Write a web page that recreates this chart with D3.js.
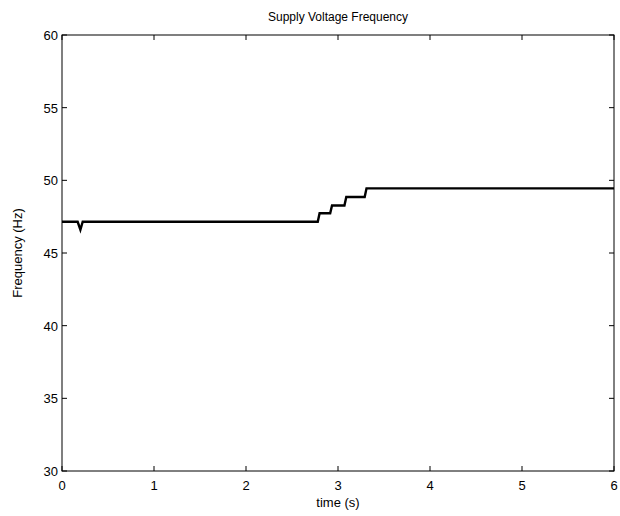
<!DOCTYPE html>
<html><head><meta charset="utf-8">
<script src="https://cdn.jsdelivr.net/npm/d3@7"></script>
<style>body{margin:0;background:#fff}svg{display:block;font-family:"Liberation Sans",Arial,sans-serif}</style>
</head><body>
<script>
const times = [0, 0.17, 0.20, 0.225, 2.78, 2.80, 2.915, 2.935, 3.07, 3.09, 3.29, 3.31, 6];
const freq  = [47.15, 47.15, 46.6, 47.15, 47.15, 47.74, 47.74, 48.27, 48.27, 48.85, 48.85, 49.45, 49.45];
const xTicks = [0,1,2,3,4,5,6];
const yTicks = [30,35,40,45,50,55,60];

const W=620,H=516, L=62, R=614, T=35, B=471;
const svg=d3.select("body").append("svg").attr("width",W).attr("height",H);
const x=d3.scaleLinear().domain([0,6]).range([L,R]);
const y=d3.scaleLinear().domain([30,60]).range([B,T]);

const tl=5;
const ax=svg.append("g").attr("stroke","#000").attr("stroke-width",1).attr("fill","none");
ax.append("rect").attr("x",L).attr("y",T).attr("width",R-L).attr("height",B-T);
xTicks.forEach(t=>{
  ax.append("line").attr("x1",x(t)).attr("x2",x(t)).attr("y1",B).attr("y2",B-tl);
  ax.append("line").attr("x1",x(t)).attr("x2",x(t)).attr("y1",T).attr("y2",T+tl);
});
yTicks.forEach(t=>{
  ax.append("line").attr("y1",y(t)).attr("y2",y(t)).attr("x1",L).attr("x2",L+tl);
  ax.append("line").attr("y1",y(t)).attr("y2",y(t)).attr("x1",R).attr("x2",R-tl);
});
svg.append("g").selectAll("text").data(xTicks).join("text")
  .attr("x",d=>x(d)).attr("y",B+19).attr("text-anchor","middle").attr("font-size",13).text(d=>d);
svg.append("g").selectAll("text").data(yTicks).join("text")
  .attr("x",L-4).attr("y",d=>y(d)+5).attr("text-anchor","end").attr("font-size",13).text(d=>d);

const pts=times.map((t,i)=>[t,freq[i]]);
svg.append("path").datum(pts).attr("fill","none").attr("stroke","#000").attr("stroke-width",2.4)
  .attr("stroke-linejoin","miter")
  .attr("d",d3.line().x(d=>x(d[0])).y(d=>y(d[1])));

svg.append("text").attr("x",(L+R)/2).attr("y",21).attr("text-anchor","middle").attr("font-size",12).text("Supply Voltage Frequency");
svg.append("text").attr("x",(L+R)/2).attr("y",507).attr("text-anchor","middle").attr("font-size",13).text("time (s)");
svg.append("text").attr("transform",`translate(22,${(T+B)/2}) rotate(-90)`).attr("text-anchor","middle").attr("font-size",13).text("Frequency (Hz)");
</script>
</body></html>
